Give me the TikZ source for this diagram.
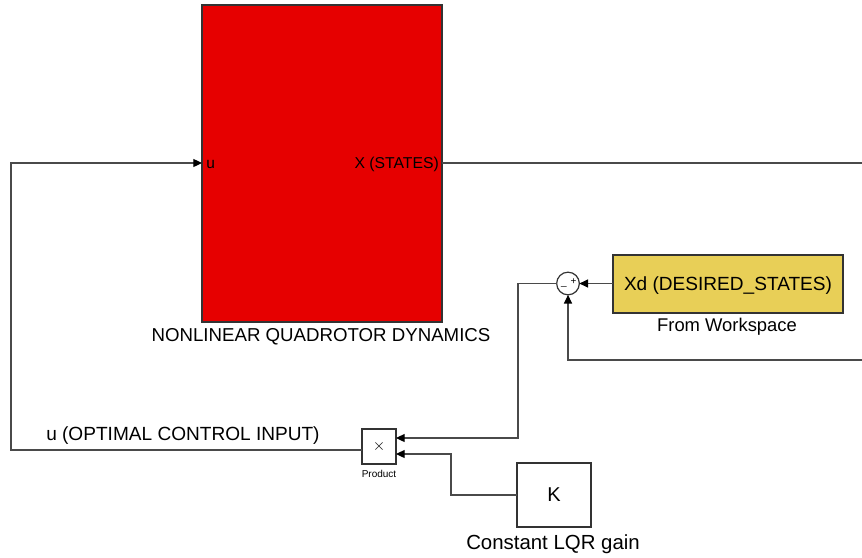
\documentclass[tikz,border=0pt]{standalone}
\usepackage{fontspec}
\setmainfont{Liberation Sans}
\usetikzlibrary{arrows.meta}
\definecolor{wire}{HTML}{4A4A4A}
\definecolor{dynred}{HTML}{E60000}
\definecolor{wsyellow}{HTML}{E8CF57}
\definecolor{edge}{HTML}{333333}
\tikzset{
  wire/.style={draw=wire, line width=0.9pt},
  sig/.style={wire, -{Triangle[length=6.5pt,width=6pt,color=black]}},
  blk/.style={draw=edge, line width=0.9pt, inner sep=0pt, outer sep=0pt},
  lbl/.style={inner sep=0pt, text=black},
}
\newcommand{\fs}[1]{\fontsize{#1}{#1}\selectfont}
\begin{document}
\begin{tikzpicture}[x=0.75pt,y=-0.75pt]
\useasboundingbox (0,0) rectangle (862,557);
% blocks
\node[blk, fill=dynred, minimum width=180pt, minimum height=237.75pt] (dyn) at (322,163.5) {};
\node[blk, fill=wsyellow, minimum width=172.5pt, minimum height=43.5pt] (xd) at (728,284) {};
\node[lbl] (xdtxt) at (728,286) {\fs{14.3pt}Xd (DESIRED\_STATES)};
\node[blk, fill=white, minimum width=25.5pt, minimum height=26.25pt] (prod) at (379,446.5) {};
\node[lbl] (prodtxt) at (379,446) {\fs{13pt}$\times$};
\node[blk, fill=white, minimum width=55.5pt, minimum height=48pt] (k) at (554,495) {};
\node[lbl] (ktxt) at (554,495) {\fs{15pt}K};
\node[blk, circle, fill=white, minimum size=17pt] (sum) at (568,283.5) {};
\node[lbl] (plus) at (573.5,282) {\fs{7.5pt}+};
\node[lbl] (minus) at (564,286.5) {\fs{7.5pt}\_};
% labels
\node[lbl, anchor=west] (uin) at (206,164) {\fs{11.6pt}u};
\node[lbl, anchor=east] (xout) at (439,164) {\fs{11.8pt}X (STATES)};
\node[lbl] (dynname) at (321,337) {\fs{14pt}NONLINEAR QUADROTOR DYNAMICS};
\node[lbl] (wsname) at (727,327) {\fs{13.8pt}From Workspace};
\node[lbl] (prodname) at (379,474) {\fs{7.5pt}Product};
\node[lbl] (kname) at (553,544) {\fs{15.3pt}Constant LQR gain};
\node[lbl, anchor=west] (ulbl) at (46,436) {\fs{14.3pt}u (OPTIMAL CONTROL INPUT)};
% coordinates
\coordinate (prodout) at (362,450);
\coordinate (lefttop) at (11,163);
\coordinate (leftbot) at (11,450);
\coordinate (xend) at (862,163);
\coordinate (fbend) at (862,360);
\coordinate (fbcorner) at (568,360);
\coordinate (sumcorner1) at (518,283.5);
\coordinate (sumcorner2) at (518,438);
\coordinate (kcorner1) at (451,495);
\coordinate (kcorner2) at (451,454);
% connectors
\draw[sig] (prodout) -- (leftbot) -- (lefttop) -- (dyn.west |- lefttop);
\draw[wire] (dyn.east |- xend) -- (xend);
\draw[sig] (fbend) -- (fbcorner) -- (sum.south);
\draw[sig] (xd.west |- sum.east) -- (sum.east);
\draw[sig] (sum.west) -- (sumcorner1) -- (sumcorner2) -- (prod.east |- sumcorner2);
\draw[sig] (k.west) -- (kcorner1) -- (kcorner2) -- (prod.east |- kcorner2);
\end{tikzpicture}
\end{document}
